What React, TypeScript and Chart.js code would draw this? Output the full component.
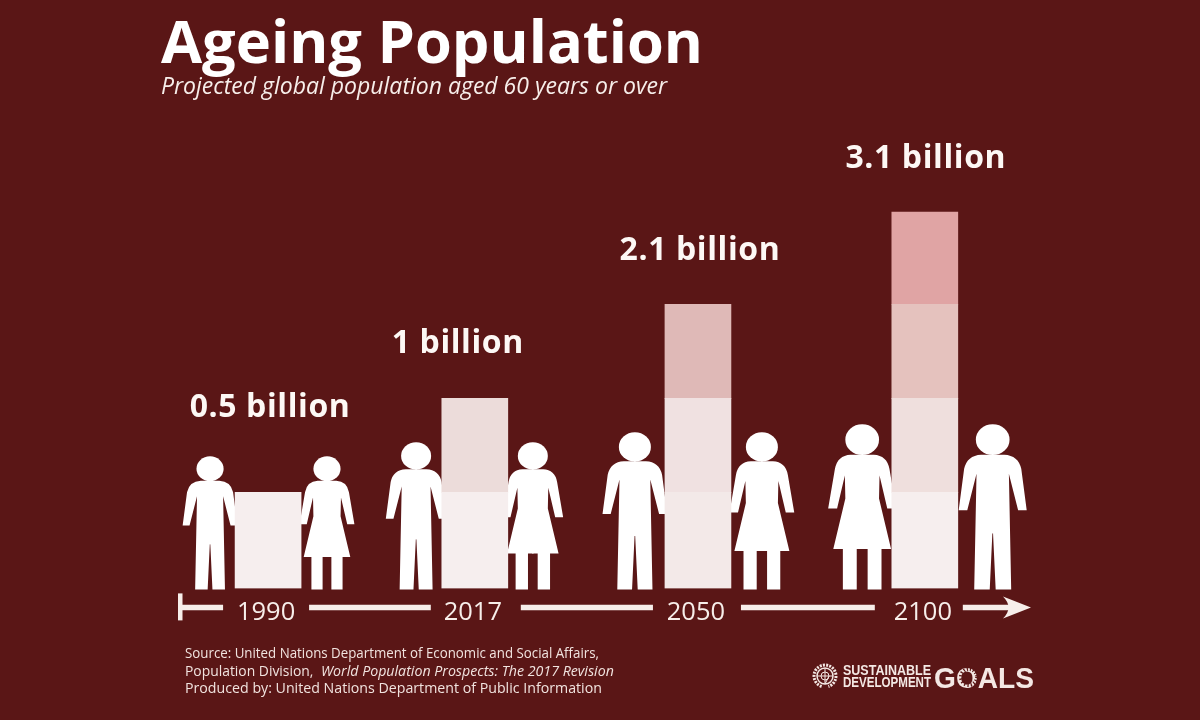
import React, { useEffect, useRef } from "react";
import { Chart, registerables } from "chart.js";

Chart.register(...registerables);

const years = ["1990", "2017", "2050", "2100"];
const yearSlots = [0, 0.944, 1.963, 2.999];
const billionLabels = ["0.5 billion", "1 billion", "2.1 billion", "3.1 billion"];

const block1 = [1.02, 1.02, 1.02, 1.02];
const block2 = [null, 1, 1, 1];
const block3 = [null, null, 1, 1];
const block4 = [null, null, null, 0.98];

const block1Colors = ["#f6eeee", "#f6eeee", "#f3e9e8", "#f6eeee"];
const block2Colors = ["#000", "#ecdcda", "#f0e1e1", "#efdfdd"];
const block3Colors = ["#000", "#000", "#dfb9b7", "#e5c2be"];
const block4Colors = ["#000", "#000", "#000", "#e0a4a4"];

const leftKinds = ["man", "man", "man", "woman"];
const rightKinds = ["woman", "woman", "woman", "man"];
const leftOffsets = [-0.265, -0.268, -0.288, -0.286];
const rightOffsets = [0.269, 0.265, 0.292, 0.31];
const figureHeights = [1.415, 1.564, 1.67, 1.755];

const labelOffsetsX = [2, -17, 2, 1];
const labelRises = [85, 54, 53, 53];
const gapBefore = [45, 44, 45, 50];
const gapAfter = [41, 46, 43, 38];

const sourceLine1 = "Source: United Nations Department of Economic and Social Affairs,";
const sourceLine2a = "Population Division, ";
const sourceLine2b = "World Population Prospects: The 2017 Revision";
const sourceLine3 = "Produced by: United Nations Department of Public Information";

const BG = "#5a1616";
const INK = "#f7eeea";

function figurePath(ctx: CanvasRenderingContext2D, kind: string) {
  ctx.beginPath();
  ctx.moveTo(-0.5, 18.4);
  ctx.lineTo(7, 18.4);
  if (kind === "man") {
    ctx.quadraticCurveTo(15.5, 18.8, 17.3, 27);
    ctx.lineTo(20.6, 52);
    ctx.lineTo(15.4, 52);
    ctx.lineTo(9.8, 30);
    ctx.lineTo(11.2, 100);
    ctx.lineTo(1.8, 100);
    ctx.lineTo(0.2, 66);
    ctx.lineTo(-0.5, 66);
  } else {
    ctx.quadraticCurveTo(15, 18.8, 16.5, 27);
    ctx.lineTo(20.6, 51);
    ctx.lineTo(15.2, 51);
    ctx.lineTo(10.5, 31);
    ctx.lineTo(10.2, 45);
    ctx.lineTo(17.5, 75.6);
    ctx.lineTo(11.7, 75.6);
    ctx.lineTo(11.7, 100);
    ctx.lineTo(3.3, 100);
    ctx.lineTo(3.3, 75.6);
    ctx.lineTo(-0.5, 75.6);
  }
  ctx.closePath();
  ctx.fill();
}

function drawFigure(ctx: CanvasRenderingContext2D, kind: string, cx: number, top: number, h: number) {
  const s = h / 100;
  ctx.save();
  ctx.translate(cx, top);
  ctx.fillStyle = "#ffffff";
  ctx.scale(s, s);
  figurePath(ctx, kind);
  ctx.beginPath();
  ctx.ellipse(0, 9.3, 10.2, 9.3, 0, 0, Math.PI * 2);
  ctx.fill();
  ctx.scale(-1, 1);
  figurePath(ctx, kind);
  ctx.restore();
}

const figuresPlugin = {
  id: "figures",
  beforeDraw(chart: any) {
    const { ctx, width, height } = chart;
    ctx.save();
    ctx.fillStyle = BG;
    ctx.fillRect(0, 0, width, height);
    ctx.restore();
  },
  beforeDatasetsDraw(chart: any) {
    const { ctx, scales } = chart;
    const x = scales.x;
    const y = scales.y;
    years.forEach((_, i) => {
      const base = y.getPixelForValue(0) + 1;
      const top = y.getPixelForValue(figureHeights[i]) + 1;
      const h = base - top;
      drawFigure(ctx, leftKinds[i], x.getPixelForValue(yearSlots[i] + leftOffsets[i]), top, h);
      drawFigure(ctx, rightKinds[i], x.getPixelForValue(yearSlots[i] + rightOffsets[i]), top, h);
    });
  },
  afterDraw(chart: any) {
    const { ctx, scales } = chart;
    const x = scales.x;
    const y = scales.y;
    const base = y.getPixelForValue(0);

    // value captions above the stacks
    ctx.save();
    ctx.fillStyle = "#fdf8f5";
    ctx.textAlign = "center";
    ctx.textBaseline = "middle";
    ctx.font = 'bold 32px "Open Sans"';
    (ctx as any).letterSpacing = "0.6px";
    const totals = [block1, block2, block3, block4];
    years.forEach((_, i) => {
      const total = totals.reduce((sum, b) => sum + (b[i] ?? 0), 0);
      ctx.fillText(
        billionLabels[i],
        x.getPixelForValue(yearSlots[i]) + labelOffsetsX[i],
        y.getPixelForValue(total) - labelRises[i]
      );
    });
    ctx.restore();

    // time line
    const lineY = base + 19;
    ctx.save();
    ctx.strokeStyle = INK;
    ctx.fillStyle = INK;
    ctx.lineWidth = 5.5;
    const px = yearSlots.map((s) => x.getPixelForValue(s));
    const segs: [number, number][] = [[180, px[0] - gapBefore[0]]];
    for (let i = 0; i < px.length - 1; i++) segs.push([px[i] + gapAfter[i], px[i + 1] - gapBefore[i + 1]]);
    segs.push([px[3] + gapAfter[3], 1022]);
    ctx.beginPath();
    segs.forEach(([a, b]) => {
      ctx.moveTo(a, lineY);
      ctx.lineTo(b, lineY);
    });
    ctx.stroke();
    ctx.fillRect(178, lineY - 14, 4.5, 27);
    ctx.beginPath();
    ctx.moveTo(1003, lineY - 11);
    ctx.lineTo(1031, lineY);
    ctx.lineTo(1003, lineY + 11);
    ctx.quadraticCurveTo(1014, lineY, 1003, lineY - 11);
    ctx.fill();
    ctx.restore();

    // source
    ctx.save();
    ctx.fillStyle = "#f1e3df";
    ctx.textBaseline = "alphabetic";
    ctx.textAlign = "left";
    ctx.font = '14.2px "Open Sans"';
    ctx.fillText(sourceLine1, 185, 658, 414);
    ctx.fillText(sourceLine2a, 185, 676, 132);
    ctx.font = 'italic 14.2px "Open Sans"';
    ctx.fillText(sourceLine2b, 321, 676, 293);
    ctx.font = '14.2px "Open Sans"';
    ctx.fillText(sourceLine3, 185, 693, 418);
    ctx.restore();

    // SDG wordmark
    ctx.save();
    ctx.fillStyle = "#f4e8e4";
    ctx.strokeStyle = "#f4e8e4";
    ctx.lineWidth = 1.5;
    ctx.beginPath();
    ctx.arc(825, 676, 8, 0, Math.PI * 2);
    ctx.stroke();
    ctx.lineWidth = 3;
    ctx.setLineDash([2, 1.2]);
    ctx.beginPath();
    ctx.arc(825, 676, 11, Math.PI * 0.6, Math.PI * 2.4);
    ctx.stroke();
    ctx.setLineDash([]);
    ctx.lineWidth = 1;
    ctx.beginPath();
    ctx.moveTo(817, 676);
    ctx.lineTo(833, 676);
    ctx.moveTo(825, 668);
    ctx.lineTo(825, 684);
    ctx.arc(825, 676, 4, 0, Math.PI * 2);
    ctx.stroke();
    ctx.font = 'bold 14px "Liberation Sans"';
    ctx.textBaseline = "alphabetic";
    ctx.fillText("SUSTAINABLE", 843, 675, 88);
    ctx.fillText("DEVELOPMENT", 843, 687, 88);
    ctx.font = 'bold 30px "Liberation Sans"';
    ctx.fillText("GOALS", 934, 688, 100);
    ctx.lineWidth = 4;
    ctx.strokeStyle = BG;
    ctx.setLineDash([1.2, 2]);
    ctx.beginPath();
    ctx.arc(969, 677, 8, 0, Math.PI * 2);
    ctx.stroke();
    ctx.restore();
  },
};

export default function App() {
  const ref = useRef<HTMLCanvasElement | null>(null);

  useEffect(() => {
    if (!ref.current) return;
    const toPoints = (values: (number | null)[]) =>
      values.map((v, i) => ({ x: yearSlots[i], y: v }));
    const chart = new Chart(ref.current, {
      type: "bar",
      data: {
        datasets: [
          { data: toPoints(block1), backgroundColor: block1Colors },
          { data: toPoints(block2), backgroundColor: block2Colors },
          { data: toPoints(block3), backgroundColor: block3Colors },
          { data: toPoints(block4), backgroundColor: block4Colors },
        ] as any,
      },
      plugins: [figuresPlugin],
      options: {
        responsive: false,
        animation: false,
        barThickness: 66,
        layout: { padding: { left: 161, right: 160, top: 0, bottom: 83 } },
        plugins: {
          legend: { display: false },
          tooltip: { enabled: false },
          title: {
            display: true,
            text: "Ageing Population",
            align: "start",
            color: "#ffffff",
            font: { family: '"Open Sans"', size: 59.6, weight: "bold", lineHeight: 1 },
            padding: { top: 16, bottom: 0 },
          },
          subtitle: {
            display: true,
            text: "Projected global population aged 60 years or over",
            align: "start",
            color: "#f7eeea",
            font: { family: '"Open Sans"', size: 23, style: "italic", lineHeight: 1 },
            padding: { top: 0, bottom: 19.4 },
          },
        },
        scales: {
          x: {
            type: "linear",
            stacked: true,
            offset: false,
            min: -0.489,
            max: 3.525,
            grid: { display: false, drawTicks: false },
            border: { display: false },
            afterBuildTicks(scale: any) {
              scale.ticks = yearSlots.map((value) => ({ value }));
            },
            ticks: {
              color: INK,
              font: { family: '"Open Sans"', size: 25.5 },
              padding: 9,
              labelOffset: -2,
              autoSkip: false,
              maxRotation: 0,
              callback: (value: any) => years[yearSlots.indexOf(value)],
            },
          },
          y: { stacked: true, display: false, min: 0, max: 5 },
        },
      } as any,
    });
    return () => chart.destroy();
  }, []);

  return (
    <div style={{ position: "fixed", left: 0, top: 0, width: 1200, height: 720, background: BG }}>
      <canvas ref={ref} width={1200} height={720} style={{ display: "block" }} />
    </div>
  );
}
